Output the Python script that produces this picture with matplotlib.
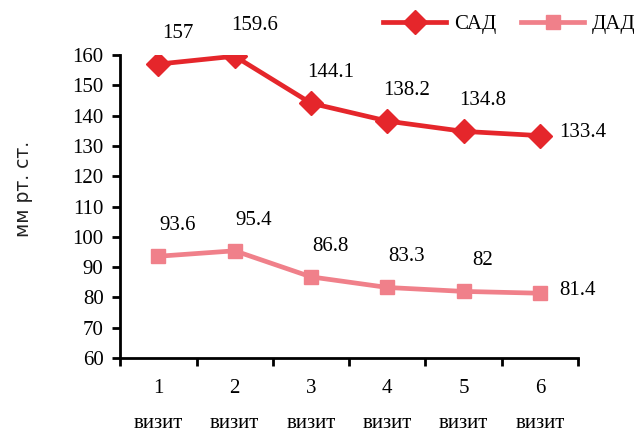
import matplotlib
matplotlib.use("Agg")
import matplotlib.pyplot as plt

visits = ["1", "2", "3", "4", "5", "6"]
visit_word = "визит"
sad = [157, 159.6, 144.1, 138.2, 134.8, 133.4]
dad = [93.6, 95.4, 86.8, 83.3, 82, 81.4]
sad_labels = ["157", "159.6", "144.1", "138.2", "134.8", "133.4"]
dad_labels = ["93.6", "95.4", "86.8", "83.3", "82", "81.4"]
yticks = [60, 70, 80, 90, 100, 110, 120, 130, 140, 150, 160]

red = "#e5262b"
pink = "#f0808a"
serif = "Liberation Serif"

fig = plt.figure(figsize=(6.43, 4.33), dpi=100)
ax = fig.add_axes([0.187, 0.173, 0.712, 0.700])

x = list(range(1, len(visits) + 1))
ax.plot(x, sad, color=red, lw=3.4, marker="D", ms=12, label="САД", zorder=3)
ax.plot(x, dad, color=pink, lw=3.4, marker="s", ms=9.5, label="ДАД", zorder=3)

ax.set_xlim(0.5, len(visits) + 0.5)
ax.set_ylim(60, 160)

for sp in ["top", "right"]:
    ax.spines[sp].set_visible(False)
for sp in ["left", "bottom"]:
    ax.spines[sp].set_linewidth(2)

ax.set_yticks(yticks)
ax.set_yticklabels([str(v) for v in yticks], fontfamily=serif, fontsize=15)
ax.tick_params(axis="y", direction="out", length=6, width=2, pad=6)

# category boundaries as ticks, category names centred between them
ax.set_xticks([i + 0.5 for i in range(0, len(visits) + 1)])
ax.set_xticklabels([])
ax.tick_params(axis="x", which="major", direction="out", length=6, width=2)
ax.set_xticks(x, minor=True)
ax.set_xticklabels([f"{v}\n\n{visit_word}" for v in visits], minor=True,
                   fontfamily=serif, fontsize=15, linespacing=0.9)
ax.tick_params(axis="x", which="minor", length=0, pad=15)

fig.text(0.037, 0.563, "мм рт. ст.", rotation=90, ha="center", va="center",
         fontfamily="DejaVu Sans", fontsize=13.5, color="#222222")

# value labels: above and right of each point, last one to the right
for xs, ys, labs in [(x, sad, sad_labels), (x, dad, dad_labels)]:
    for i, (xi, yi, lab) in enumerate(zip(xs, ys, labs)):
        if i == len(xs) - 1:
            ax.annotate(lab, (xi, yi), xytext=(14, 2), textcoords="offset points",
                        ha="left", va="center", fontfamily=serif, fontsize=15)
        else:
            ax.annotate(lab, (xi, yi), xytext=(14, 22), textcoords="offset points",
                        ha="center", va="center", fontfamily=serif, fontsize=15)

leg = fig.legend(loc="upper right", bbox_to_anchor=(1.018, 1.01), ncol=2, frameon=False,
                 prop={"family": serif, "size": 15}, handlelength=3.0,
                 columnspacing=1.2, handletextpad=0.4)

fig.savefig("out.png", dpi=100)
